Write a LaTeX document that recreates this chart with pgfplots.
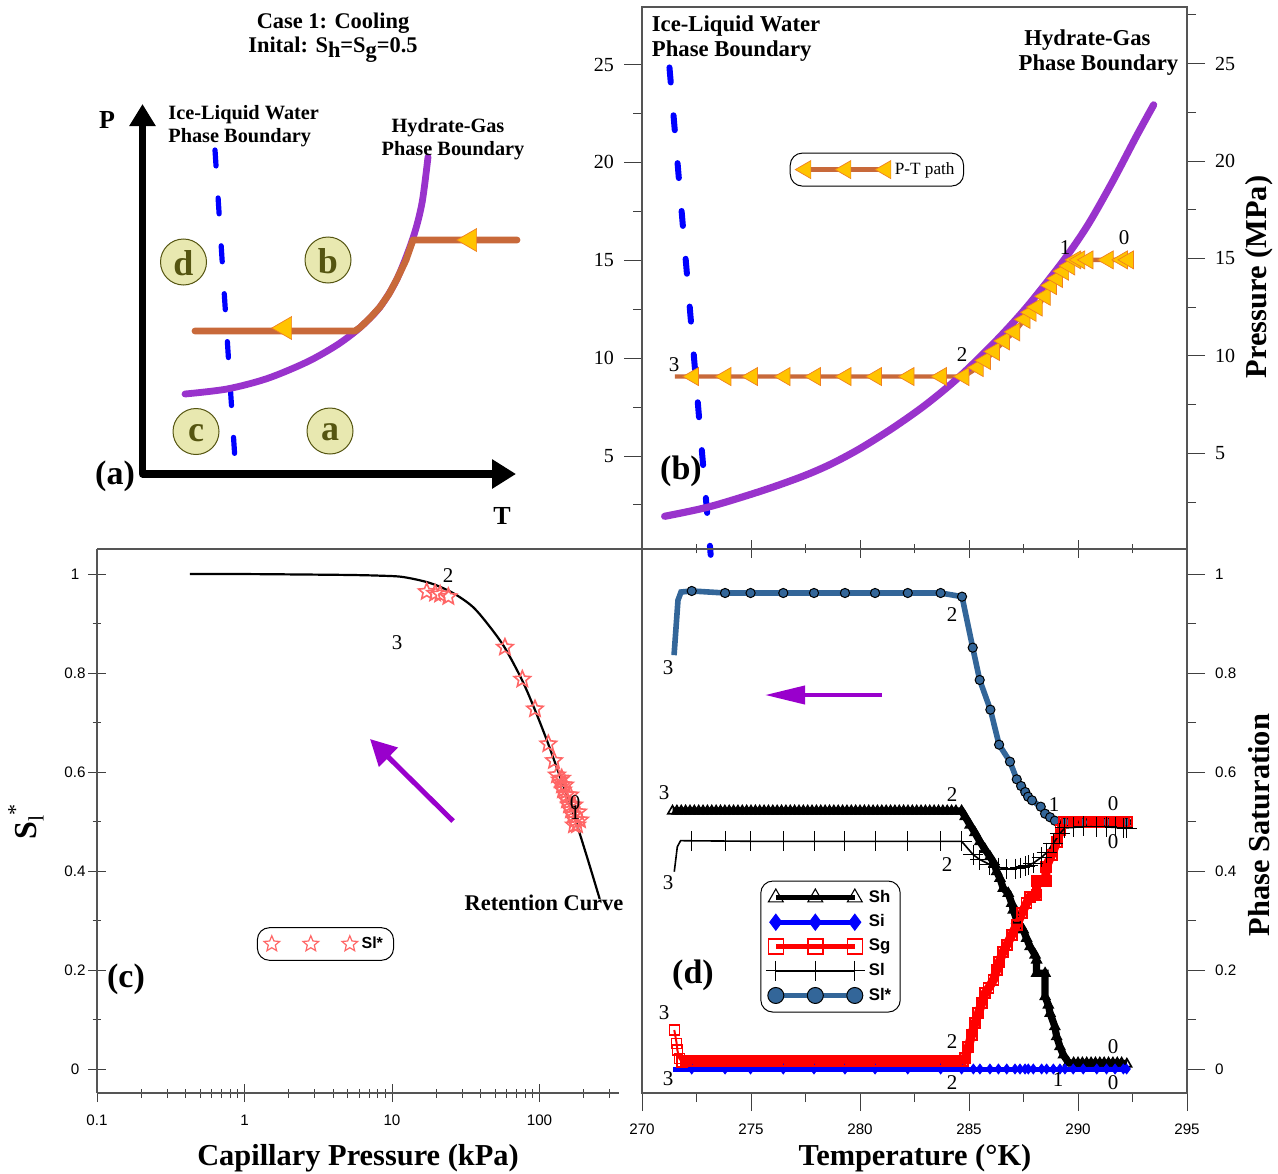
\documentclass[border=0pt]{standalone}
\usepackage{fontspec}
\setmainfont{Liberation Serif}
\setsansfont{Liberation Sans}
\usepackage{pgfplots}
\pgfplotsset{compat=1.18}
\usetikzlibrary{arrows.meta}
\definecolor{spine}{HTML}{555555}
\definecolor{brownpath}{HTML}{C8693A}
\definecolor{goldm}{HTML}{FFC400}
\definecolor{orangee}{HTML}{F08020}
\definecolor{purplec}{HTML}{9933CC}
\definecolor{steel}{HTML}{336699}
\definecolor{pinks}{HTML}{FF6666}
\definecolor{magen}{HTML}{9900CC}
\definecolor{circf}{HTML}{E8E8B0}
\definecolor{olive2}{HTML}{555511}
\pgfdeclareplotmark{ostar}{%
  \pgfpathmoveto{\pgfpointpolar{90}{\pgfplotmarksize}}%
  \pgfpathlineto{\pgfpointpolar{126}{0.45\pgfplotmarksize}}%
  \pgfpathlineto{\pgfpointpolar{162}{\pgfplotmarksize}}%
  \pgfpathlineto{\pgfpointpolar{198}{0.45\pgfplotmarksize}}%
  \pgfpathlineto{\pgfpointpolar{234}{\pgfplotmarksize}}%
  \pgfpathlineto{\pgfpointpolar{270}{0.45\pgfplotmarksize}}%
  \pgfpathlineto{\pgfpointpolar{306}{\pgfplotmarksize}}%
  \pgfpathlineto{\pgfpointpolar{342}{0.45\pgfplotmarksize}}%
  \pgfpathlineto{\pgfpointpolar{18}{\pgfplotmarksize}}%
  \pgfpathlineto{\pgfpointpolar{54}{0.45\pgfplotmarksize}}%
  \pgfpathclose\pgfusepathqstroke}
\newcommand\tlab{\fontsize{7.6}{9}\selectfont\sffamily}
\newcommand\slab{\fontsize{10}{12}\selectfont}
\pgfplotsset{
  three marks/.style n args={3}{legend image code/.code={\draw[##1,mark repeat=1,mark phase=1,mark size=#1,#3] plot coordinates {(0pt,0pt)(#2,0pt)(2*#2,0pt)};}},
  base/.style={scale only axis,clip=false,
    axis line style={spine,line width=0.6pt},
    every tick/.style={black!75,line width=0.45pt},
    major tick length=9pt,minor tick length=4.5pt,
    tick align=outside,
    label style={font=\fontsize{15.2}{17}\selectfont\bfseries},
  },
  boxleg/.style={legend cell align=left,
    legend style={draw=black,line width=0.5pt,rounded corners=6pt,fill=white,anchor=center,inner xsep=2.5pt,inner ysep=2.5pt}},
}
\newcommand\T[2]{\node[inner sep=0pt,align=center] at (axis cs:#1) {#2};}
\newcommand\TL[2]{\node[inner sep=0pt,anchor=west] at (axis cs:#1) {#2};}
\newcommand\subs[1]{\raisebox{-0.22em}{#1}}
\begin{document}
\begin{tikzpicture}[x=1pt,y=1pt]
\useasboundingbox (0,0) rectangle (639pt,586.5pt);
% ---------- panel (b), left and bottom axes
\begin{axis}[base,at={(321pt,312pt)},anchor=south west,width=272.5pt,height=271pt,
  xmin=270,xmax=295,ymin=0.249,ymax=27.94,
  xtick={270,275,280,285,290,295},xticklabels={},minor xtick={272.5,277.5,282.5,287.5,292.5},xtick align=center,
  ytick={5,10,15,20,25},yticklabels={5,10,15,20,25},minor ytick={2.5,7.5,12.5,17.5,22.5},
  ytick pos=left,xtick pos=lower,
  yticklabel style={font=\slab,xshift=-1.5pt},boxleg,
  legend style={at={(0.431,0.700)},font=\fontsize{8.6}{10}\selectfont}]
\addplot[blue,line width=3pt,line cap=round,dash pattern=on 7.5pt off 16.5pt,forget plot] coordinates {(271.26,24.85)(273.15,-0.05)};
\addplot[brownpath,line width=2.2pt,mark=triangle*,mark size=5.2pt,mark phase=2,mark repeat=1,
  mark options={rotate=90,fill=goldm,draw=orangee,line width=0.35pt},three marks={5.2pt}{20pt}{}] coordinates {
 (271.51,9.06)(272.35,9.06)(273.84,9.06)(275.06,9.06)(276.55,9.06)(277.95,9.06)(279.35,9.06)(280.75,9.06)(282.24,9.06)(283.73,9.06)(284.76,9.06)
 (285.41,9.52)(285.75,9.88)(286.16,10.34)(286.62,10.88)(287.09,11.34)(287.56,11.98)(287.84,12.34)(288.12,12.61)(288.49,13.16)(288.77,13.71)(289.05,14.07)(289.33,14.44)(289.61,14.71)(289.89,15.02)(290.07,15.02)(290.45,15.02)(291.38,15.02)(292.03,15.02)(292.31,15.02)};
\addlegendentry{P-T path}
\addplot[purplec,line width=3.6pt,line cap=round,smooth,forget plot] coordinates {
 (271.04,1.92)(273.10,2.41)(275.52,3.23)(277.39,3.97)(278.69,4.6)(280.0,5.38)(281.49,6.42)(282.99,7.6)(284.48,8.97)(286.16,10.79)(287.65,12.61)(289.33,14.98)(290.45,16.8)(291.57,18.99)(292.69,21.36)(293.47,22.94)};
\end{axis}
% ---------- panel (b), right axis
\begin{axis}[base,at={(321pt,312pt)},anchor=south west,width=272.5pt,height=271pt,
  xmin=270,xmax=295,ymin=0.09,ymax=27.9,
  axis x line=none,axis y line*=right,
  ytick={5,10,15,20,25},yticklabels={5,10,15,20,25},minor ytick={2.5,7.5,12.5,17.5,22.5,27.5},
  yticklabel style={font=\slab,xshift=1.5pt},
  ylabel={Pressure (MPa)},ylabel style={at={(axis description cs:1.133,0.502)},anchor=center}]
\addplot[draw=none,forget plot] coordinates {(270,5)(295,25)};
\end{axis}
% ---------- panel (d)
\begin{axis}[base,at={(321pt,40pt)},anchor=south west,width=272.5pt,height=272pt,
  xmin=270,xmax=295,ymin=-0.04848,ymax=1.0505,
  xtick={270,275,280,285,290,295},xticklabels={270,275,280,285,290,295},minor xtick={272.5,277.5,282.5,287.5,292.5},
  ytick={0,0.2,0.4,0.6,0.8,1},yticklabels={0,0.2,0.4,0.6,0.8,1},minor ytick={0.1,0.3,0.5,0.7,0.9},
  ytick pos=right,xtick pos=lower,
  xticklabel style={font=\tlab,yshift=-3pt},
  yticklabel style={font=\tlab,xshift=1.5pt},
  xlabel={Temperature (°K)},xlabel style={at={(axis description cs:0.5009,-0.1195)},anchor=center},
  ylabel={Phase Saturation},ylabel style={at={(axis description cs:1.133,0.4926)},anchor=center},
  boxleg,
  legend style={at={(0.3459,0.2692)},font=\fontsize{8.4}{9}\selectfont\sffamily\bfseries,row sep=0.7pt}]
% Sl* under the others
\addplot[steel,line width=2.8pt,mark=*,mark size=2.3pt,mark phase=4,mark repeat=1,mark options={fill=steel,draw=black,line width=0.5pt},forget plot] coordinates {
 (271.47,0.836)(271.65,0.947)(271.79,0.9636)
 (272.28,0.9657)(273.81,0.9616)(274.98,0.9616)(276.48,0.9616)(277.89,0.9616)(279.31,0.9616)(280.69,0.9616)(282.19,0.9616)(283.70,0.9616)(284.68,0.9542)
 (285.17,0.8512)(285.49,0.7859)(285.98,0.7259)(286.38,0.6552)(286.88,0.6208)(287.19,0.5852)(287.39,0.5717)(287.58,0.5596)(287.71,0.5501)(287.89,0.5428)(288.29,0.5299)(288.49,0.5158)(288.72,0.5085)(288.94,0.5016)(289.40,0.4985)(290.24,0.4985)(291.31,0.4985)(292.23,0.4985)};
% Sh
\addplot[black,line width=3.6pt,mark=triangle,mark size=2.7pt,mark options={draw=black,fill=none,line width=0.8pt,solid},three marks={4.3pt}{19.75pt}{line width=2.5pt,mark options={draw=black,fill=none,line width=0.55pt}}] coordinates {
 (271.4,.5212)(271.6,.5212)(271.8,.5212)(272.0,.5212)(272.2,.5212)(272.4,.5212)(272.6,.5212)(272.8,.5212)(273.0,.5212)(273.2,.5212)(273.4,.5212)(273.6,.5212)(273.8,.5212)(274.0,.5212)(274.2,.5212)(274.4,.5212)(274.6,.5212)(274.8,.5212)(275.0,.5212)(275.2,.5212)(275.4,.5212)(275.6,.5212)(275.8,.5212)(276.0,.5212)(276.2,.5212)(276.4,.5212)(276.6,.5212)(276.8,.5212)(277.0,.5212)(277.2,.5212)(277.4,.5212)(277.6,.5212)(277.8,.5212)(278.0,.5212)(278.2,.5212)(278.4,.5212)(278.6,.5212)(278.8,.5212)(279.0,.5212)(279.2,.5212)(279.4,.5212)(279.6,.5212)(279.8,.5212)(280.0,.5212)(280.2,.5212)(280.4,.5212)(280.6,.5212)(280.8,.5212)(281.0,.5212)(281.2,.5212)(281.4,.5212)(281.6,.5212)(281.8,.5212)(282.0,.5212)(282.2,.5212)(282.4,.5212)(282.6,.5212)(282.8,.5212)(283.0,.5212)(283.2,.5212)(283.4,.5212)(283.6,.5212)(283.8,.5212)(284.0,.5212)(284.2,.5212)(284.4,.5212)
 (284.66,.5212)(284.82,.5098)(285.05,.4929)(285.27,.4774)(285.5,.4592)(285.73,.4438)(285.96,.4289)(286.15,.4155)(286.27,.3987)(286.42,.3852)(286.57,.365)(286.8,.3549)(286.96,.3347)(287.03,.3212)(287.19,.301)(287.49,.2809)(287.64,.264)(287.8,.2471)(288.03,.2303)(288.1,.2202)(288.1,.1933)(288.49,.1933)(288.49,.1461)(288.64,.1293)(288.72,.1124)(288.94,.0855)(289.02,.0653)(289.17,.0451)(289.33,.0283)(289.56,.0128)
 (289.8,.012)(290.0,.012)(290.2,.012)(290.4,.012)(290.6,.012)(290.8,.012)(291.0,.012)(291.2,.012)(291.4,.012)(291.6,.012)(291.8,.012)(292.0,.012)(292.24,.01)};
\addlegendentry{Sh}
% Si
\addplot[blue,line width=2.5pt,mark=diamond*,mark size=2.4pt,mark phase=2,mark repeat=1,mark options={fill=blue,draw=blue,line width=0.5pt},three marks={4pt}{19.75pt}{}] coordinates {
 (271.44,0)(272.28,0)(273.81,0)(274.98,0)(276.48,0)(277.89,0)(279.31,0)(280.69,0)(282.19,0)(283.7,0)(284.66,0)(285.2,0)(285.5,0)(285.96,0)(286.35,0)(286.73,0)(287.11,0)(287.34,0)(287.57,0)(287.72,0)(287.95,0)(288.33,0)(288.56,0)(288.87,0)(289.17,0)(289.4,0)(289.78,0)(290.24,0)(290.86,0)(291.31,0)(291.7,0)(292.08,0)(292.23,0)};
\addlegendentry{Si}
% Sg: the short rise at the low-temperature end keeps its squares open
\addplot[red,line width=1pt,mark=square,mark size=2.5pt,mark options={draw=red,fill=none,line width=0.7pt,solid},forget plot] coordinates {
 (271.48,.0788)(271.59,.0518)(271.62,.0384)(271.71,.0216)(271.82,.0148)};
\addplot[red,line width=4.5pt,mark=square,mark size=2.5pt,mark options={draw=red,fill=none,line width=0.9pt,solid},three marks={3.75pt}{19.75pt}{line width=2.5pt,mark options={draw=red,fill=none,line width=0.7pt}}] coordinates {
 (271.82,.0148)
 (272.0,.0162)(272.2,.0162)(272.4,.0162)(272.6,.0162)(272.8,.0162)(273.0,.0162)(273.2,.0162)(273.4,.0162)(273.6,.0162)(273.8,.0162)(274.0,.0162)(274.2,.0162)(274.4,.0162)(274.6,.0162)(274.8,.0162)(275.0,.0162)(275.2,.0162)(275.4,.0162)(275.6,.0162)(275.8,.0162)(276.0,.0162)(276.2,.0162)(276.4,.0162)(276.6,.0162)(276.8,.0162)(277.0,.0162)(277.2,.0162)(277.4,.0162)(277.6,.0162)(277.8,.0162)(278.0,.0162)(278.2,.0162)(278.4,.0162)(278.6,.0162)(278.8,.0162)(279.0,.0162)(279.2,.0162)(279.4,.0162)(279.6,.0162)(279.8,.0162)(280.0,.0162)(280.2,.0162)(280.4,.0162)(280.6,.0162)(280.8,.0162)(281.0,.0162)(281.2,.0162)(281.4,.0162)(281.6,.0162)(281.8,.0162)(282.0,.0162)(282.2,.0162)(282.4,.0162)(282.6,.0162)(282.8,.0162)(283.0,.0162)(283.2,.0162)(283.4,.0162)(283.6,.0162)(283.8,.0162)(284.0,.0162)(284.2,.0162)(284.4,.0162)(284.6,.0162)
 (284.74,.0162)(284.82,.0216)(284.97,.0451)(285.12,.0687)(285.27,.0923)(285.43,.1125)(285.58,.1327)(285.73,.1529)(285.89,.163)(286.12,.1798)(286.27,.2)(286.39,.2169)(286.57,.2371)(286.73,.2505)(286.96,.2707)(287.19,.2909)(287.42,.3145)(287.64,.3347)(287.8,.3482)(288.1,.3515)(288.1,.3805)(288.53,.3805)(288.53,.4088)(288.79,.4323)(289.02,.4593)(289.2,.4828)(289.36,.4997)
 (289.5,.4997)(289.7,.4997)(289.9,.4997)(290.1,.4997)(290.3,.4997)(290.5,.4997)(290.7,.4997)(290.9,.4997)(291.1,.4997)(291.3,.4997)(291.5,.4997)(291.7,.4997)(291.9,.4997)(292.1,.4997)(292.25,.4997)};
\addlegendentry{Sg}
% Sl
\addplot[black,line width=0.8pt,mark=+,mark size=5pt,mark phase=4,mark repeat=1,mark options={draw=black,line width=0.5pt},three marks={5pt}{19.75pt}{}] coordinates {
 (271.48,.3986)(271.62,.449)(271.77,.4613)
 (272.28,.461)(273.81,.4605)(274.98,.46)(276.48,.46)(277.89,.46)(279.31,.46)(280.69,.46)(282.19,.46)(283.7,.46)(284.66,.46)(285.2,.4325)(285.5,.423)(285.96,.413)(286.35,.407)(286.73,.404)(287.11,.405)(287.34,.407)(287.57,.41)(287.72,.412)(287.95,.416)(288.33,.428)(288.56,.437)(288.87,.456)(289.17,.476)(289.4,.487)(289.78,.488)(290.24,.49)(290.86,.489)(291.31,.489)(291.7,.488)(292.08,.487)(292.23,.486)};
\addlegendentry{Sl}
\addlegendimage{steel,line width=2.5pt,mark=*,mark options={fill=steel,draw=black,line width=0.5pt},three marks={4pt}{19.75pt}{}}
\addlegendentry{Sl*}
\end{axis}
% ---------- panel (c)
\begin{axis}[base,at={(48.5pt,40pt)},anchor=south west,width=261pt,height=272pt,
  xmode=log,log basis x=10,xmin=0.1,xmax=346,ymin=-0.04848,ymax=1.0505,
  axis x line=bottom,axis y line=left,axis line style={-},
  xtick={0.1,1,10,100},xticklabels={0.1,1,10,100},
  minor xtick={0.2,0.3,0.4,0.5,0.6,0.7,0.8,0.9,2,3,4,5,6,7,8,9,20,30,40,50,60,70,80,90,200,300},
  ytick={0,0.2,0.4,0.6,0.8,1},yticklabels={0,0.2,0.4,0.6,0.8,1},minor ytick={0.1,0.3,0.5,0.7,0.9},
  xticklabel style={font=\tlab,yshift=-3pt},
  yticklabel style={font=\tlab,anchor=center,xshift=-6.5pt},
  xlabel={Capillary Pressure (kPa)},xlabel style={at={(axis description cs:0.5,-0.1195)},anchor=center},
  ylabel={S\raisebox{-3.5pt}{\fontsize{11}{11}\selectfont\mdseries l}\raisebox{7pt}{\fontsize{11}{11}\selectfont\mdseries *}},ylabel style={at={(axis description cs:-0.136,0.498)},anchor=center,font=\fontsize{16}{17}\selectfont\bfseries},
  boxleg,
  legend style={at={(0.4377,0.2739)},font=\fontsize{8}{9}\selectfont\sffamily\bfseries,inner xsep=3.3pt}]
\addplot[only marks,mark=ostar,mark size=4.3pt,mark options={draw=pinks,line width=0.8pt},three marks={4.1pt}{19.5pt}{mark options={draw=pinks,line width=0.6pt}}] coordinates {
 (17.2,.9642)(19.6,.9610)(21.2,.9590)(24.1,.9541)(58.3,.8519)(76.5,.7873)(93.2,.7273)(114.8,.6566)(125.4,.6228)(141.5,.5873)
 (131.4,.5939)(137.7,.5838)(142,.5737)(144.2,.5636)(148.9,.5737)(151.2,.5535)(153.6,.5434)(158.5,.5333)(161,.5535)(163.5,.5232)(168.7,.5131)(171.4,.5333)(174.1,.503)(171.4,.4929)(179.6,.4929)(182.4,.5192)(188.2,.503)};
\addlegendentry{Sl*}
\addplot[black,line width=1.1pt,smooth,forget plot] coordinates {
 (0.427,1)(1.09,0.9998)(2.38,0.999)(5.19,0.998)(8.3,0.9966)(11.88,0.9939)(18.1,0.9818)(25.9,0.9616)(35.4,0.9333)(46.2,0.8929)(58.3,0.8505)(76.1,0.7859)(93.2,0.7253)(114,0.6586)(138,0.5899)(169,0.5172)(210,0.4283)(256,0.3435)};
\end{axis}
% ---------- overlay in picture coordinates: panel (a), arrows and texts
\begin{axis}[scale only axis,at={(0pt,0pt)},anchor=south west,width=639pt,height=586.5pt,
  xmin=0,xmax=1278,ymin=0,ymax=1173,y dir=reverse,hide axis,clip=false]
\addplot[spine,line width=0.6pt,forget plot] coordinates {(97,549)(642,549)};
% schematic
\addplot[blue,line width=2.6pt,line cap=round,dash pattern=on 8pt off 16pt] coordinates {(215,150)(235,460)};
\addplot[purplec,line width=3.4pt,line cap=round,smooth] coordinates {(185,394)(227,389)(267,378.6)(307,362)(337,345)(360,327.6)(380,307)(397,279)(413,238)(422,203)(428,157)};
\addplot[brownpath,line width=3.4pt,line cap=round,line join=round] coordinates {(517,240)(413,240)(406,260)(397,279)(389,294)(380,307)(370,318)(360,327.6)(355,331)(195,331)};
\addplot[only marks,mark=triangle*,mark size=6.6pt,mark options={rotate=90,fill=goldm,draw=orangee,line width=0.35pt}] coordinates {(470,240)(285,328)};
\addplot[black,line width=3.6pt,line join=round,{Triangle[length=11pt,width=12.5pt]}-{Triangle[length=12pt,width=14pt]}] coordinates {(142.5,104)(142.5,474)(516,474)};
\addplot[only marks,mark=*,mark size=11.5pt,mark options={fill=circf,draw=olive2,line width=0.5pt}] coordinates {(183.5,262)(328,260)(196,431.5)(330,431)};
% direction arrows
\addplot[magen,line width=2.5pt,-{Triangle[length=13pt,width=13pt]}] coordinates {(453,821)(370,739)};
\addplot[magen,line width=2pt,-{Triangle[length=20pt,width=9pt]}] coordinates {(882,695)(765,695)};
\end{axis}
\begin{axis}[scale only axis,at={(0pt,0pt)},anchor=south west,width=639pt,height=586.5pt,
  xmin=0,xmax=1278,ymin=0,ymax=1173,y dir=reverse,hide axis,clip=false]
\addplot[draw=none,forget plot] coordinates {(0,0)(1278,1173)};
% circle letters
\node[inner sep=0pt,text=olive2,font=\fontsize{18}{18}\selectfont\bfseries] at (axis cs:183.5,263) {d};
\node[inner sep=0pt,text=olive2,font=\fontsize{18}{18}\selectfont\bfseries] at (axis cs:328,261) {b};
\node[inner sep=0pt,text=olive2,font=\fontsize{18}{18}\selectfont\bfseries] at (axis cs:196,433.5) {c};
\node[inner sep=0pt,text=olive2,font=\fontsize{18}{18}\selectfont\bfseries] at (axis cs:330,432) {a};
% bold titles
\begin{scope}[font=\fontsize{11.2}{12}\selectfont\bfseries]
\T{333,23}{Case 1: Cooling}
\T{333,50}{Inital: S\subs{h}=S\subs{g}=0.5}
\T{544,903}{Retention Curve}
\end{scope}
\begin{scope}[font=\fontsize{10.15}{12}\selectfont\bfseries]
\TL{168,115}{Ice-Liquid Water}\TL{168,138}{Phase Boundary}
\T{448,128}{Hydrate-Gas}\T{453,151}{Phase Boundary}
\end{scope}
\begin{scope}[font=\fontsize{11.35}{12}\selectfont\bfseries]
\TL{651.5,26}{Ice-Liquid Water}\TL{651.5,51}{Phase Boundary}
\T{1087.5,40.5}{Hydrate-Gas}\T{1098.5,65.5}{Phase Boundary}
\end{scope}
\begin{scope}[font=\fontsize{13}{14}\selectfont\bfseries]
\T{107,120}{P}\T{502,516}{T}
\end{scope}
\begin{scope}[font=\fontsize{17}{18}\selectfont\bfseries]
\T{115,476}{(a)}\T{681,471}{(b)}\T{126,979}{(c)}\T{693,975}{(d)}
\end{scope}
% state labels
\begin{scope}[font=\fontsize{10.5}{11}\selectfont]
\T{674,365}{3}\T{962,355}{2}\T{1065,248}{1}\T{1124,238}{0}
\T{448,576}{2}\T{397,643}{3}\T{575,803}{0}\T{575,813}{1}
\T{952,615}{2}\T{668,668}{3}
\T{664,793}{3}\T{952,795}{2}\T{1054,805}{1}\T{1113,804}{0}
\T{668,883}{3}\T{947,865}{2}\T{1113,842}{0}
\T{664,1013}{3}\T{952,1042}{2}\T{1113,1047}{0}
\T{668,1079}{3}\T{952,1083}{2}\T{1058,1080}{1}\T{1113,1083}{0}
\end{scope}
\end{axis}
\end{tikzpicture}
\end{document}
